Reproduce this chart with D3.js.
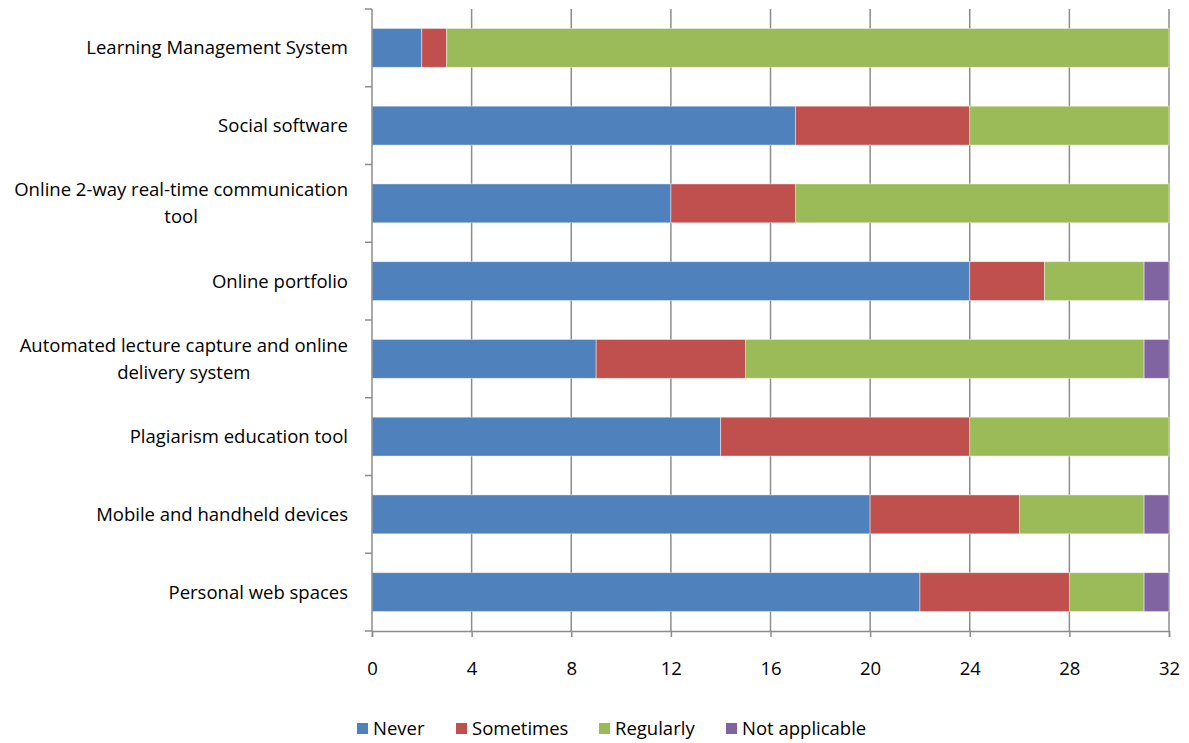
<!DOCTYPE html>
<html>
<head>
<meta charset="utf-8">
<script src="https://cdn.jsdelivr.net/npm/d3@7"></script>
<style>
  body { margin: 0; background: #fff; }
  svg { display: block; font-family: "Open Sans", sans-serif; }
</style>
</head>
<body>
<svg id="chart" width="1189" height="743"></svg>
<script>
// Survey responses: how often each technology is used
const categories = [
  ["Learning Management System"],
  ["Social software"],
  ["Online 2-way real-time communication", "tool"],
  ["Online portfolio"],
  ["Automated lecture capture and online", "delivery system"],
  ["Plagiarism education tool"],
  ["Mobile and handheld devices"],
  ["Personal web spaces"]
];
const seriesNames = ["Never", "Sometimes", "Regularly", "Not applicable"];
const seriesColors = ["#4f81bd", "#c0504d", "#9bbb59", "#8064a2"];
const never         = [2, 17, 12, 24, 9, 14, 20, 22];
const sometimes     = [1, 7, 5, 3, 6, 10, 6, 6];
const regularly     = [29, 8, 15, 4, 16, 8, 5, 3];
const notApplicable = [0, 0, 0, 1, 1, 0, 1, 1];
const xTicks = [0, 4, 8, 12, 16, 20, 24, 28, 32];

const rows = categories.map((c, i) => ({
  key: c.join(" "),
  lines: c,
  Never: never[i],
  Sometimes: sometimes[i],
  Regularly: regularly[i],
  "Not applicable": notApplicable[i]
}));

const FONT = 18.5;
const svg = d3.select("#chart");
const plotTop = 9, plotBottom = 631, labelRight = 348;

const x = d3.scaleLinear().domain([0, 32]).range([372, 1169]);
const y = d3.scaleBand().domain(rows.map(r => r.key))
  .range([plotTop, plotBottom]).paddingInner(0.5).paddingOuter(0.25);

const axisColor = "#8c8c8c";

// vertical gridlines
svg.append("g").selectAll("line").data(xTicks.slice(1)).join("line")
  .attr("x1", d => x(d)).attr("x2", d => x(d))
  .attr("y1", plotTop).attr("y2", plotBottom)
  .attr("stroke", axisColor).attr("stroke-width", 1.5);

// stacked bars
const stack = d3.stack().keys(seriesNames)(rows);
svg.append("g").selectAll("g").data(stack).join("g")
  .attr("fill", (d, i) => seriesColors[i])
  .selectAll("rect").data(d => d.filter(s => s[1] > s[0])).join("rect")
  .attr("x", d => x(d[0]))
  .attr("width", d => x(d[1]) - x(d[0]))
  .attr("y", d => y(d.data.key))
  .attr("height", y.bandwidth())
  .attr("stroke", "rgba(255,255,255,0.55)")
  .attr("stroke-width", 0.8);

// left axis with ticks between categories
const bandEdges = d3.range(rows.length + 1).map(i => plotTop + i * ((plotBottom - plotTop) / rows.length));
svg.append("line").attr("x1", x(0)).attr("x2", x(0))
  .attr("y1", plotTop).attr("y2", plotBottom)
  .attr("stroke", axisColor).attr("stroke-width", 1.5);
svg.append("g").selectAll("line").data(bandEdges).join("line")
  .attr("x1", x(0) - 7).attr("x2", x(0))
  .attr("y1", d => d).attr("y2", d => d)
  .attr("stroke", axisColor).attr("stroke-width", 1.5);

// bottom axis
const xAxis = d3.axisBottom(x).tickValues(xTicks).tickSize(6).tickPadding(25);
const gx = svg.append("g").attr("transform", `translate(0,${plotBottom})`).call(xAxis);
gx.select(".domain").attr("stroke", axisColor).attr("stroke-width", 1.5);
gx.selectAll(".tick line").attr("stroke", axisColor).attr("stroke-width", 1.5);
gx.selectAll(".tick text").attr("font-size", FONT).attr("fill", "#000")
  .attr("font-family", "'Open Sans', sans-serif");

// category labels: multi-line labels are centred as a block, right edge at the axis gap
const labels = svg.append("g").selectAll("text").data(rows).join("text")
  .attr("font-size", FONT)
  .attr("fill", "#000")
  .attr("y", d => y(d.key) + y.bandwidth() / 2);
labels.each(function(d) {
  const t = d3.select(this);
  const n = d.lines.length;
  d.lines.forEach((ln, i) => {
    t.append("tspan")
      .attr("dy", i === 0 ? `${0.35 - (n - 1) * 0.73}em` : "1.46em")
      .text(ln);
  });
  if (n === 1) {
    t.attr("text-anchor", "end").selectAll("tspan").attr("x", labelRight);
  } else {
    const w = d3.max(t.selectAll("tspan").nodes(), nd => nd.getComputedTextLength());
    t.attr("text-anchor", "middle").selectAll("tspan").attr("x", labelRight - w / 2);
  }
});

// legend
const legendX = [357, 456, 599, 726];
const lg = svg.append("g").selectAll("g").data(seriesNames).join("g")
  .attr("transform", (d, i) => `translate(${legendX[i]},723)`);
lg.append("rect").attr("width", 11).attr("height", 11)
  .attr("fill", (d, i) => seriesColors[i]);
lg.append("text").attr("x", 16).attr("y", 5.5).attr("dy", "0.35em")
  .attr("font-size", FONT).attr("fill", "#000").text(d => d);
</script>
</body>
</html>
